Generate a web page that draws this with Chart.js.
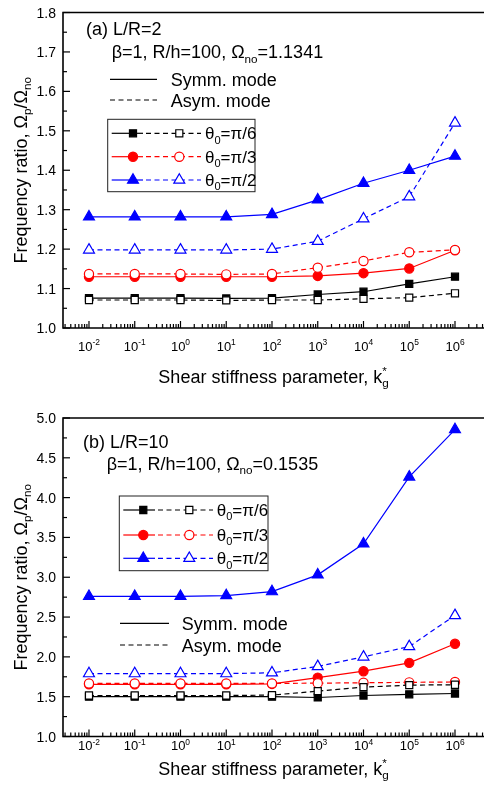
<!DOCTYPE html>
<html>
<head>
<meta charset="utf-8">
<script src="https://cdn.jsdelivr.net/npm/chart.js@4.4.0/dist/chart.umd.min.js"></script>
<style>
  html, body { margin: 0; padding: 0; background: #fff; overflow: hidden; }
  body { width: 484px; height: 798px; position: relative; }
  .panel { position: absolute; left: 0; width: 484px; }
  .panel canvas { display: block; }
  #wrap-a { top: 0; height: 400px; }
  #wrap-b { top: 400px; height: 398px; }
</style>
</head>
<body>
<div class="panel" id="wrap-a"><canvas id="chart-a" width="484" height="400"></canvas></div>
<div class="panel" id="wrap-b"><canvas id="chart-b" width="484" height="398"></canvas></div>
<script>
// Shear stiffness parameter k_g* (x values)
const kValues = [1e-2, 1e-1, 1e0, 1e1, 1e2, 1e3, 1e4, 1e5, 1e6];
const xExponents = [-2, -1, 0, 1, 2, 3, 4, 5, 6];

// (a) L/R=2
const symA_pi6  = [1.076, 1.076, 1.076, 1.075, 1.076, 1.085, 1.092, 1.112, 1.130];
const asymA_pi6 = [1.071, 1.071, 1.071, 1.070, 1.071, 1.071, 1.074, 1.077, 1.088];
const symA_pi3  = [1.130, 1.130, 1.130, 1.130, 1.130, 1.132, 1.139, 1.151, 1.197];
const asymA_pi3 = [1.137, 1.137, 1.137, 1.136, 1.137, 1.153, 1.170, 1.192, 1.198];
const symA_pi2  = [1.282, 1.282, 1.282, 1.282, 1.288, 1.325, 1.367, 1.400, 1.436];
const asymA_pi2 = [1.198, 1.198, 1.198, 1.198, 1.200, 1.220, 1.277, 1.333, 1.520];

// (b) L/R=10
const symB_pi6  = [1.500, 1.500, 1.500, 1.500, 1.500, 1.490, 1.515, 1.530, 1.540];
const asymB_pi6 = [1.515, 1.515, 1.515, 1.515, 1.520, 1.570, 1.620, 1.645, 1.650];
const symB_pi3  = [1.655, 1.655, 1.655, 1.655, 1.660, 1.740, 1.820, 1.925, 2.165];
const asymB_pi3 = [1.667, 1.667, 1.667, 1.667, 1.667, 1.670, 1.675, 1.680, 1.685];
const symB_pi2  = [2.76, 2.76, 2.76, 2.77, 2.82, 3.03, 3.42, 4.26, 4.855];
const asymB_pi2 = [1.79, 1.79, 1.79, 1.79, 1.80, 1.88, 2.00, 2.13, 2.52];

// theta_0 series styles
const thetas = [
  { label: 'π/6', color: '#000000', style: 'rect', r: 5 },
  { label: 'π/3', color: '#ff0000', style: 'circle', r: 4.6 },
  { label: 'π/2', color: '#0000ff', style: 'triangle', r: 6.3 }
];

const FONT = '"Liberation Sans", Arial, sans-serif';
const DASH = [5, 3.5];
const xMin = Math.pow(10, -2.568);
const xMax = Math.pow(10, 6.634);

function setFont(ctx, size) {
  ctx.font = size + 'px ' + FONT;
}

// parts: [{t, s}] where s is 'sub' / 'sup', stack keeps the pen where it is
function richWidth(ctx, parts, size) {
  let w = 0;
  parts.forEach(p => {
    setFont(ctx, p.s ? size * 0.65 : size);
    if (!p.stack) w += ctx.measureText(p.t).width;
  });
  return w;
}

function drawRich(ctx, parts, x, y, size, align) {
  const w = richWidth(ctx, parts, size);
  let cx = align === 'center' ? x - w / 2 : (align === 'right' ? x - w : x);
  ctx.textAlign = 'left';
  ctx.textBaseline = 'alphabetic';
  parts.forEach(p => {
    setFont(ctx, p.s ? size * 0.65 : size);
    let dy = 0;
    if (p.s === 'sub') dy = size * 0.25;
    if (p.s === 'sup') dy = -size * 0.4;
    ctx.fillText(p.t, cx, y + dy);
    if (!p.stack) cx += ctx.measureText(p.t).width;
  });
}

function drawMarker(ctx, style, x, y, r, fill, stroke) {
  ctx.save();
  ctx.setLineDash([]);
  ctx.lineWidth = 1.2;
  ctx.fillStyle = fill;
  ctx.strokeStyle = stroke;
  ctx.beginPath();
  if (style === 'rect') {
    const s = Math.SQRT1_2 * r;
    ctx.rect(x - s, y - s, 2 * s, 2 * s);
  } else if (style === 'circle') {
    ctx.arc(x, y, r, 0, Math.PI * 2);
  } else {
    let rad = 0;
    ctx.moveTo(x + Math.sin(rad) * r, y - Math.cos(rad) * r);
    rad += Math.PI * 2 / 3;
    ctx.lineTo(x + Math.sin(rad) * r, y - Math.cos(rad) * r);
    rad += Math.PI * 2 / 3;
    ctx.lineTo(x + Math.sin(rad) * r, y - Math.cos(rad) * r);
    ctx.closePath();
  }
  ctx.fill();
  ctx.stroke();
  ctx.restore();
}

function line(ctx, x1, y1, x2, y2, dash, color, width) {
  ctx.save();
  ctx.strokeStyle = color;
  ctx.lineWidth = width || 1.2;
  ctx.setLineDash(dash || []);
  ctx.beginPath();
  ctx.moveTo(x1, y1);
  ctx.lineTo(x2, y2);
  ctx.stroke();
  ctx.restore();
}

// Frame, inward ticks, tick labels, axis titles, notes and the inset legend
const figureDecor = {
  id: 'figureDecor',
  afterDraw(chart, args, o) {
    const ctx = chart.ctx;
    const a = chart.chartArea;
    const xs = chart.scales.x;
    const ys = chart.scales.y;
    ctx.save();
    ctx.fillStyle = '#000';

    // frame (right side runs off the page)
    ctx.strokeStyle = '#000';
    ctx.lineWidth = 1.6;
    ctx.beginPath();
    ctx.moveTo(chart.width + 2, a.top);
    ctx.lineTo(a.left, a.top);
    ctx.lineTo(a.left, a.bottom);
    ctx.lineTo(chart.width + 2, a.bottom);
    ctx.stroke();

    // y ticks
    const n = Math.round((o.yMax - o.yMin) / o.yMinor);
    const every = Math.round(o.yStep / o.yMinor);
    for (let i = 0; i <= n; i++) {
      const v = o.yMin + i * o.yMinor;
      const py = ys.getPixelForValue(v);
      const major = i % every === 0;
      line(ctx, a.left, py, a.left + (major ? 7 : 4), py, [], '#000', 1.2);
      if (major) {
        setFont(ctx, 14);
        ctx.textAlign = 'right';
        ctx.textBaseline = 'alphabetic';
        ctx.fillText(v.toFixed(1), 56, py + 5);
      }
    }

    // x ticks (log, minor 2..9)
    const e0 = Math.floor(Math.log10(xMin));
    const e1 = Math.ceil(Math.log10(xMax));
    for (let e = e0; e <= e1; e++) {
      for (let m = 1; m <= 9; m++) {
        const v = m * Math.pow(10, e);
        if (v < xMin || v > xMax) continue;
        const px = xs.getPixelForValue(v);
        line(ctx, px, a.bottom, px, a.bottom - (m === 1 ? 7 : 4), [], '#000', 1.2);
      }
    }
    xExponents.forEach(e => {
      const px = xs.getPixelForValue(Math.pow(10, e));
      drawRich(ctx, [{ t: '10' }, { t: String(e), s: 'sup' }], px, o.xLabelBase, 13, 'center');
    });

    // axis titles
    drawRich(ctx, [
      { t: 'Shear stiffness parameter, k' },
      { t: '*', s: 'sup', stack: true },
      { t: 'g', s: 'sub' }
    ], (a.left + a.right) / 2, o.xTitleBase, 18, 'center');

    ctx.save();
    ctx.translate(20, (a.top + a.bottom) / 2);
    ctx.rotate(-Math.PI / 2);
    drawRich(ctx, [
      { t: 'Frequency ratio, Ω' }, { t: 'p', s: 'sub' },
      { t: '/Ω' }, { t: 'no', s: 'sub' }
    ], 0, 6.5, 18, 'center');
    ctx.restore();

    // notes
    drawRich(ctx, [{ t: o.caseLabel }], o.caseX, o.caseY, 18, 'left');
    drawRich(ctx, [
      { t: 'β=1, R/h=100, Ω' }, { t: 'no', s: 'sub' }, { t: '=' + o.omega }
    ], o.paramX, o.paramY, 18, 'left');

    // symm / asym key
    const mk = o.modeKey;
    line(ctx, mk.x1, mk.ySym, mk.x2, mk.ySym, [], '#000', 1.2);
    line(ctx, mk.x1, mk.yAsym, mk.x2, mk.yAsym, DASH, '#000', 1.2);
    ctx.fillStyle = '#000';
    drawRich(ctx, [{ t: 'Symm. mode' }], mk.textX, mk.ySym + 6.5, 18, 'left');
    drawRich(ctx, [{ t: 'Asym. mode' }], mk.textX, mk.yAsym + 6.5, 18, 'left');

    // theta legend box
    const lg = o.legend;
    ctx.strokeStyle = '#222';
    ctx.lineWidth = 1;
    ctx.setLineDash([]);
    ctx.strokeRect(lg.x, lg.y, lg.w, lg.h);
    thetas.forEach((th, i) => {
      const ry = lg.rows[i];
      line(ctx, lg.x + 4, ry, lg.solidEnd, ry, [], th.color, 1.2);
      line(ctx, lg.solidEnd + 3, ry, lg.dashEnd, ry, DASH, th.color, 1.2);
      drawMarker(ctx, th.style, lg.filledX, ry, th.r, th.color, th.color);
      drawMarker(ctx, th.style, lg.openX, ry, th.r, '#fff', th.color);
      ctx.fillStyle = '#000';
      drawRich(ctx, [{ t: 'θ' }, { t: '0', s: 'sub' }, { t: '=' + th.label }], lg.textX, ry + 6, 17, 'left');
    });

    ctx.restore();
  }
};

function series(vals, th, filled) {
  return {
    data: kValues.map((k, i) => ({ x: k, y: vals[i] })),
    borderColor: th.color,
    borderWidth: 1.2,
    borderDash: filled ? [] : DASH,
    pointStyle: th.style,
    pointRadius: th.r,
    pointHoverRadius: th.r,
    pointBorderWidth: 1.2,
    pointBackgroundColor: filled ? th.color : '#ffffff',
    pointBorderColor: th.color,
    tension: 0,
    fill: false
  };
}

function makeChart(id, datasets, yMin, yMax, padding, decor) {
  return new Chart(document.getElementById(id), {
    type: 'line',
    data: { datasets: datasets },
    options: {
      responsive: false,
      animation: false,
      devicePixelRatio: 1,
      layout: { padding: padding, autoPadding: false },
      scales: {
        x: { type: 'logarithmic', display: false, min: xMin, max: xMax, bounds: 'data' },
        y: { type: 'linear', display: false, min: yMin, max: yMax }
      },
      plugins: {
        legend: { display: false },
        tooltip: { enabled: false },
        figureDecor: decor
      }
    },
    plugins: [figureDecor]
  });
}

// open (asym) markers are drawn on top of the filled ones
makeChart('chart-a', [
  series(asymA_pi6, thetas[0], false),
  series(asymA_pi3, thetas[1], false),
  series(asymA_pi2, thetas[2], false),
  series(symA_pi6, thetas[0], true),
  series(symA_pi3, thetas[1], true),
  series(symA_pi2, thetas[2], true)
], 1.0, 1.8, { left: 63, top: 12.5, right: 0, bottom: 72 }, {
  yMin: 1.0, yMax: 1.8, yStep: 0.1, yMinor: 0.05,
  xLabelBase: 350.5, xTitleBase: 382.5,
  caseLabel: '(a) L/R=2', caseX: 86, caseY: 34.5,
  omega: '1.1341', paramX: 111.7, paramY: 58,
  modeKey: { x1: 110, x2: 157, ySym: 79.3, yAsym: 100, textX: 170.7 },
  legend: { x: 107.7, y: 119.3, w: 147.3, h: 72.4, rows: [133.3, 156.7, 180],
            solidEnd: 143, dashEnd: 201, filledX: 133, openX: 179.3, textX: 205 }
});

makeChart('chart-b', [
  series(asymB_pi6, thetas[0], false),
  series(asymB_pi3, thetas[1], false),
  series(asymB_pi2, thetas[2], false),
  series(symB_pi6, thetas[0], true),
  series(symB_pi3, thetas[1], true),
  series(symB_pi2, thetas[2], true)
], 1.0, 5.0, { left: 63, top: 18, right: 0, bottom: 61.5 }, {
  yMin: 1.0, yMax: 5.0, yStep: 0.5, yMinor: 0.25,
  xLabelBase: 350, xTitleBase: 374.5,
  caseLabel: '(b) L/R=10', caseX: 83, caseY: 48,
  omega: '0.1535', paramX: 106.7, paramY: 69.5,
  modeKey: { x1: 120, x2: 169, ySym: 223.3, yAsym: 245, textX: 181.7 },
  legend: { x: 119.3, y: 96, w: 148.7, h: 74.7, rows: [110, 135, 158.3],
            solidEnd: 155, dashEnd: 213, filledX: 143.3, openX: 189.3, textX: 216.7 }
});
</script>
</body>
</html>
